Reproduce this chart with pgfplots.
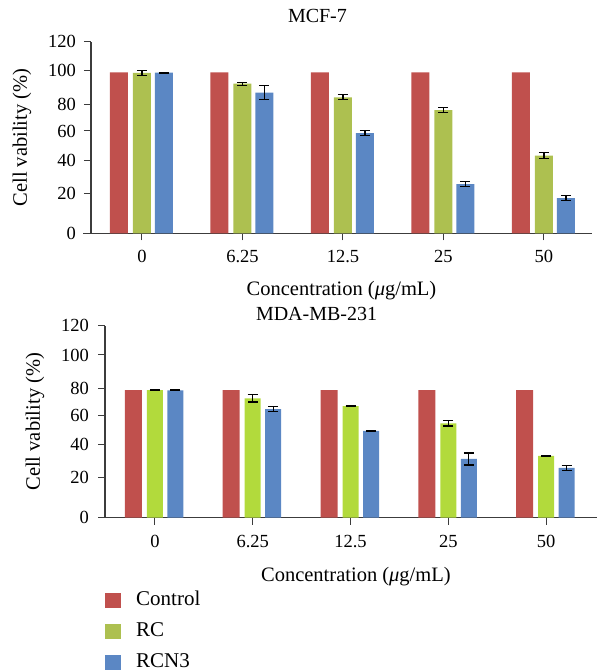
\documentclass[border=0pt]{standalone}
\usepackage{pgfplots}
\pgfplotsset{compat=1.18}
\usepackage{fontspec}
\setmainfont{Liberation Serif}
\definecolor{cCtrl}{RGB}{192,80,77}
\definecolor{cRCa}{RGB}{173,192,80}
\definecolor{cRCb}{RGB}{178,218,60}
\definecolor{cRCN}{RGB}{91,135,196}
\definecolor{axc}{RGB}{60,60,60}
\pgfplotsset{
  base/.style={
    scale only axis, axis lines=left,
    axis line style={-, axc, line width=1.2pt},
    ymin=0, ymax=120,
    ytick={0,25.2,45.9,64.1,80.9,101.7,120},
    yticklabels={0,20,40,60,80,100,120},
    xtick={0,1,2,3,4},
    xticklabels={0,6.25,12.5,25,50},
    tick align=outside, major tick length=7pt,
    tick style={axc, line width=1pt},
    ticklabel style={font=\fontsize{18.5}{22}\selectfont},
    yticklabel style={anchor=east, inner sep=0pt, xshift=-8pt},
    xticklabel style={anchor=north, inner sep=0pt, yshift=-10pt},
    /pgf/number format/assume math mode=true,
    label style={font=\fontsize{20.5}{24}\selectfont},
    ybar,
    legend image code/.code={\path[draw=none, fill=none] (0pt,-14pt) rectangle (16pt,14pt);
      \fill[##1] (0pt,-9.2pt) rectangle (16pt,5.8pt);},
  },
  errs/.style={error bars/.cd, y dir=both, y explicit,
    error bar style={black, line width=1.1pt},
    error mark options={rotate=90, black, line width=1.1pt, mark size=5pt}},
}
\begin{document}
\begin{tikzpicture}
\useasboundingbox (0pt,0pt) rectangle (599pt,-671pt);
% ---- MCF-7 ----
\begin{axis}[base,
  at={(91pt,-233.3pt)}, anchor=south west,
  width=501pt, height=191.6pt,
  xmin=-0.507, xmax=4.478,
  x axis line style={shorten <=-8pt},
  title={MCF-7},
  title style={at={(axis description cs:0.452,1.103)}, anchor=center, font=\fontsize{20}{24}\selectfont},
  xlabel={Concentration (\textit{μ}g/mL)},
  xlabel style={at={(axis description cs:0.5,-0.327)}, anchor=base},
  ylabel={Cell vability (\%)},
  ylabel style={at={(axis description cs:-0.1377,0.5)}, anchor=center},
  legend style={at={(axis description cs:0.028,-1.834)}, anchor=north west,
    draw=none, fill=none, inner sep=0pt, row sep=3pt, column sep=15pt,
    font=\fontsize{21}{24}\selectfont, nodes={inner sep=0pt}},
  legend cell align=left,
]
\addplot[fill=cCtrl, draw=none, bar width=18pt, bar shift=-23pt]
  coordinates {(0,100.8) (1,100.8) (2,100.8) (3,100.8) (4,100.8)};
\addplot[fill=cRCa, draw=none, bar width=18pt, bar shift=0pt, errs]
  coordinates {(0,100.4) +- (0,1.35) (1,93.7) +- (0,1.0) (2,85.2) +- (0,1.6) (3,77.1) +- (0,1.7) (4,48.7) +- (0,1.7)};
\addplot[fill=cRCN, draw=none, bar width=18pt, bar shift=22pt, errs]
  coordinates {(0,100.6) +- (0,0.3) (1,88.1) +- (0,4.4) (2,62.7) +- (0,1.6) (3,30.8) +- (0,1.7) (4,22.1) +- (0,1.6)};
\legend{Control,RC,RCN3}
\end{axis}
% ---- MDA-MB-231 ----
\begin{axis}[base,
  at={(105pt,-517.7pt)}, anchor=south west,
  width=492pt, height=192pt,
  xmin=-0.51, xmax=4.52,
  x axis line style={shorten <=-7pt},
  yticklabel style={xshift=-1pt},
  title={MDA-MB-231},
  title style={at={(axis description cs:0.43,1.0297)}, anchor=center, font=\fontsize{20}{24}\selectfont},
  xlabel={Concentration (\textit{μ}g/mL)},
  xlabel style={at={(axis description cs:0.51,-0.33)}, anchor=base},
  ylabel={Cell vability (\%)},
  ylabel style={at={(axis description cs:-0.1423,0.5)}, anchor=center},
]
\addplot[fill=cCtrl, draw=none, bar width=17pt, bar shift=-21.5pt]
  coordinates {(0,79.8) (1,79.8) (2,79.8) (3,79.8) (4,79.8)};
\addplot[fill=cRCb, draw=none, bar width=16pt, bar shift=0pt, errs]
  coordinates {(0,79.8) +- (0,0.3) (1,74.6) +- (0,2.3) (2,69.8) +- (0,0.5) (3,59.0) +- (0,1.7) (4,38.6) +- (0,0.5)};
\addplot[fill=cRCN, draw=none, bar width=16pt, bar shift=20.5pt, errs]
  coordinates {(0,79.6) +- (0,0.3) (1,67.9) +- (0,1.8) (2,54.2) +- (0,0.4) (3,36.7) +- (0,3.75) (4,31.1) +- (0,1.5)};
\end{axis}
\end{tikzpicture}
\end{document}
